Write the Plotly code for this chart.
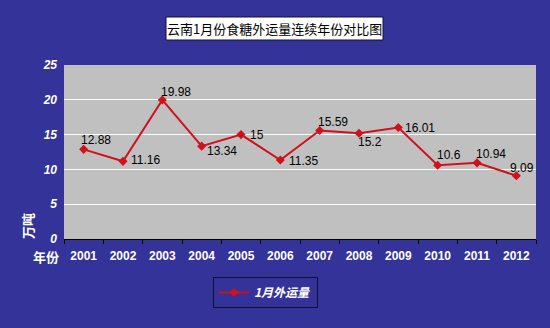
import plotly.graph_objects as go

years = ["2001", "2002", "2003", "2004", "2005", "2006", "2007", "2008", "2009", "2010", "2011", "2012"]
values = [12.88, 11.16, 19.98, 13.34, 15, 11.35, 15.59, 15.2, 16.01, 10.6, 10.94, 9.09]
series_name = "1月外运量"
title_text = "云南1月份食糖外运量连续年份对比图"
y_ticks = [0, 5, 10, 15, 20, 25]

# label offsets in pixels (style only)
label_dx = [12, 22, 14, 20, 16, 23, 13, 11, 22, 11, 14, 6]
label_dy = [9, 1, 8, -5, 0, -1, 8, -9, 0, 10, 9, 8]

BG = "#333399"
W, H = 550, 328
L, R, T, B = 64, 14, 65, 89
pw, ph = W - L - R, H - T - B

def px(x):
    return (x - L) / pw

def py(y):
    return (H - B - y) / ph

fig = go.Figure()
fig.add_trace(go.Scatter(
    x=years, y=values, name=series_name,
    mode="lines+markers",
    line=dict(color="#D0101A", width=2),
    marker=dict(symbol="diamond", size=7, color="#D0101A"),
    cliponaxis=False,
))

annotations = [
    dict(text=title_text, xref="paper", yref="paper", x=px(274.5), y=py(28.5),
         xanchor="center", yanchor="middle", showarrow=False,
         font=dict(family="Noto Sans CJK SC", size=13, color="black")),
    dict(text="万吨", xref="paper", yref="paper", x=px(27), y=py(226),
         xanchor="center", yanchor="middle", showarrow=False, textangle=-90,
         font=dict(family="Noto Sans CJK SC", size=13, color="white", weight="bold")),
    dict(text="年份", xref="paper", yref="paper", x=px(46), y=py(256),
         xanchor="center", yanchor="middle", showarrow=False,
         font=dict(family="Noto Sans CJK SC", size=13, color="white", weight="bold")),
]
for i, (v, dx, dy) in enumerate(zip(values, label_dx, label_dy)):
    annotations.append(dict(
        text=f"{v:g}", x=i, y=v, xref="x", yref="y", showarrow=False,
        xanchor="center", yanchor="middle", xshift=dx, yshift=dy,
        font=dict(family="Liberation Sans, Arial", size=12, color="black"),
    ))

fig.update_layout(
    width=W, height=H,
    margin=dict(l=L, r=R, t=T, b=B),
    paper_bgcolor=BG, plot_bgcolor="#C0C0C0",
    showlegend=True,
    legend=dict(
        x=px(213), y=py(277), xanchor="left", yanchor="top",
        bgcolor=BG, bordercolor="#101030", borderwidth=1,
        font=dict(family="Noto Sans CJK SC", size=12, color="white", weight="bold", style="italic"),
        itemwidth=30, tracegroupgap=0,
    ),
    xaxis=dict(
        type="category", categoryorder="array", categoryarray=years,
        range=[-0.5, len(years) - 0.5],
        showgrid=False, showline=True, linecolor="black", linewidth=1,
        ticks="outside", ticklen=4, tickcolor="black", tickson="boundaries",
        ticklabelstandoff=6,
        tickfont=dict(family="Liberation Sans, Arial", size=12, color="white", weight="bold"),
    ),
    yaxis=dict(
        range=[0, 25], tickvals=y_ticks, showgrid=True, gridcolor="white", gridwidth=1,
        zeroline=False, showline=False, ticks="", ticklabelstandoff=6,
        tickfont=dict(family="Liberation Sans, Arial", size=12, color="white", weight="bold", style="italic"),
    ),
    shapes=[dict(type="rect", xref="paper", yref="paper",
                 x0=px(166), x1=px(383), y0=py(40), y1=py(17),
                 fillcolor="white", line=dict(color="#101030", width=1), layer="above")],
    annotations=annotations,
)

fig.write_html("out.html")
